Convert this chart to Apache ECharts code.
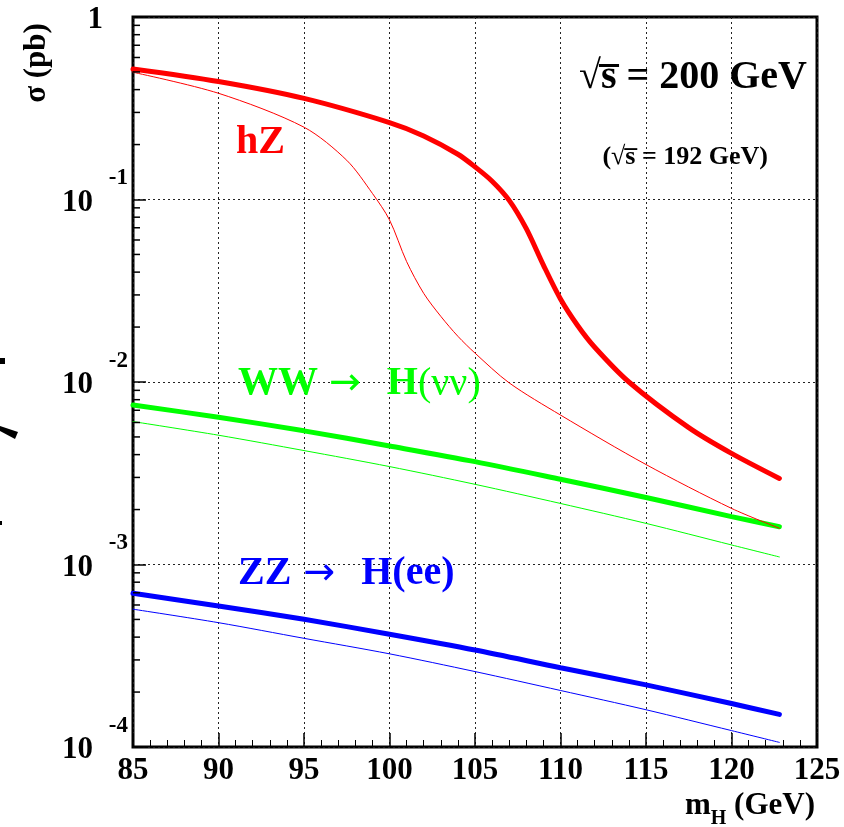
<!DOCTYPE html>
<html>
<head>
<meta charset="utf-8">
<script src="https://cdn.jsdelivr.net/npm/echarts@6/dist/echarts.min.js"></script>
<style>
  html, body { margin: 0; padding: 0; background: #fff; }
  #main { width: 844px; height: 827px; }
</style>
</head>
<body>
<div id="main"></div>
<script>
  // masses (GeV) where the curves were read
  var massHzThick = [85, 90, 95, 100, 102, 104, 105, 106, 107, 108, 109, 110, 111, 112, 114, 117.5, 120, 122.8];
  var massHzThin = [85, 90, 95, 97.5, 99, 100, 101, 102, 103, 104, 105, 107, 110, 115, 120, 122.8];
  var massLin = [85, 90, 95, 100, 105, 110, 115, 120, 122.8];

  // cross sections (pb), thick = sqrt(s)=200 GeV, thin = sqrt(s)=192 GeV
  var hzThick = [0.519, 0.443, 0.358, 0.264, 0.223, 0.177, 0.151, 0.126, 0.0989, 0.0692, 0.0437, 0.0285, 0.0204, 0.0155, 0.0100, 0.00562, 0.00406, 0.00296];
  var hzThin  = [0.498, 0.382, 0.249, 0.164, 0.108, 0.0773, 0.0457, 0.0306, 0.0229, 0.0178, 0.0144, 0.00989, 0.00659, 0.00353, 0.00203, 0.00158];
  var wwThick = [0.00748, 0.00641, 0.00540, 0.00446, 0.00366, 0.00293, 0.00233, 0.00183, 0.00161];
  var wwThin  = [0.00607, 0.00511, 0.00421, 0.00344, 0.00275, 0.00216, 0.00168, 0.00128, 0.00110];
  var zzThick = [0.000695, 0.000593, 0.000501, 0.000415, 0.000340, 0.000272, 0.000219, 0.000173, 0.000151];
  var zzThin  = [0.000569, 0.000480, 0.000394, 0.000324, 0.000259, 0.000204, 0.000160, 0.000123, 0.000106];

  var FONT = '"Liberation Serif", "Times New Roman", serif';
  var ARROW_FONT = '"DejaVu Sans", sans-serif';

  function pairs(xs, ys) {
    return xs.map(function (x, i) { return [x, ys[i]]; });
  }
  function curve(name, color, width, xs, ys) {
    return {
      name: name,
      type: 'line',
      data: pairs(xs, ys),
      showSymbol: false,
      symbol: 'none',
      smooth: 0.3,
      silent: true,
      lineStyle: { color: color, width: width, cap: 'round' },
      z: width > 2 ? 2 : 3
    };
  }

  var chart = echarts.init(document.getElementById('main'));
  chart.setOption({
    animation: false,
    backgroundColor: '#fff',
    grid: {
      left: 133, right: 27, top: 17, bottom: 80,
      outerBoundsMode: 'none',
      containLabel: false,
      show: true, borderColor: '#000', borderWidth: 3
    },
    xAxis: {
      type: 'value',
      min: 85, max: 125, interval: 5,
      axisLine: { show: false },
      axisTick: { inside: true, length: 14, lineStyle: { color: '#000', width: 1.5 } },
      minorTick: { show: true, splitNumber: 5, length: 7, lineStyle: { color: '#000', width: 1 } },
      splitLine: { show: true, lineStyle: { color: '#222', width: 1, type: [2, 3] } },
      axisLabel: {
        margin: 8, color: '#000',
        fontFamily: FONT, fontWeight: 'bold', fontSize: 31
      }
    },
    yAxis: {
      type: 'log',
      logBase: 10,
      min: 0.0001, max: 1,
      axisLine: { show: false },
      axisTick: { inside: true, length: 13, lineStyle: { color: '#000', width: 1.5 } },
      splitLine: { show: true, lineStyle: { color: '#222', width: 1, type: [2, 3] } },
      axisLabel: {
        margin: 5, color: '#000',
        formatter: function (v) {
          var e = Math.round(Math.log10(v));
          if (e === 0) return '{e| }\n{one|1}';
          return '{e|' + e + '}\n{b|10}';
        },
        rich: {
          e: { fontFamily: FONT, fontWeight: 'bold', fontSize: 23, lineHeight: 6, align: 'right', color: '#000' },
          b: { fontFamily: FONT, fontWeight: 'bold', fontSize: 31, lineHeight: 42, align: 'left', padding: [0, 35, 0, 0], color: '#000' },
          one: { fontFamily: FONT, fontWeight: 'bold', fontSize: 31, lineHeight: 42, align: 'left', padding: [0, 25, 0, 0], color: '#000' }
        }
      }
    },
    series: [
      curve('hZ 200', '#ff0000', 5, massHzThick, hzThick),
      curve('WW 200', '#00ff00', 5, massLin, wwThick),
      curve('ZZ 200', '#0000ff', 5, massLin, zzThick),
      curve('hZ 192', '#ff0000', 1, massHzThin, hzThin),
      curve('WW 192', '#00ff00', 1, massLin, wwThin),
      curve('ZZ 192', '#0000ff', 1, massLin, zzThin)
    ]
  });

  // minor ticks of the log axis at 2..9 x 10^n, placed through the axis scale
  var x0 = chart.convertToPixel({ xAxisIndex: 0 }, 85);
  var extras = [];
  for (var e = -4; e < 0; e++) {
    for (var k = 2; k <= 9; k++) {
      var py = chart.convertToPixel({ yAxisIndex: 0 }, k * Math.pow(10, e));
      extras.push({
        type: 'line', silent: true, z: 5,
        shape: { x1: x0, y1: py, x2: x0 + 7, y2: py },
        style: { stroke: '#000', lineWidth: 1.5 }
      });
    }
  }

  var texts = [
    {
      type: 'text', x: 37, y: 63, rotation: Math.PI / 2,
      style: { text: 'σ (pb)', font: 'bold 31px ' + FONT, fill: '#000', align: 'center', verticalAlign: 'middle' }
    },
    {
      type: 'text', x: 815, y: 806,
      style: {
        text: '{m|m}{s|H}{m| (GeV)}', align: 'right', verticalAlign: 'middle',
        rich: {
          m: { font: 'bold 31px ' + FONT, fill: '#000', lineHeight: 46, verticalAlign: 'middle' },
          s: { font: 'bold 20px ' + FONT, fill: '#000', verticalAlign: 'bottom' }
        }
      }
    },
    {
      type: 'text', x: 807, y: 78,
      style: { text: '√s\u0305 = 200 GeV', font: 'bold 40px ' + FONT, fill: '#000', align: 'right', verticalAlign: 'middle' }
    },
    {
      type: 'text', x: 768, y: 157,
      style: { text: '(√s\u0305 = 192 GeV)', font: 'bold 26px ' + FONT, fill: '#000', align: 'right', verticalAlign: 'middle' }
    },
    {
      type: 'text', x: 236, y: 143,
      style: { text: 'hZ', font: 'bold 40px ' + FONT, fill: '#ff0000', align: 'left', verticalAlign: 'middle' }
    },
    {
      type: 'text', x: 238, y: 384,
      style: {
        text: '{b|WW}{a|→}{b|H}{n|(νν)}', align: 'left', verticalAlign: 'middle',
        rich: {
          b: { font: 'bold 40px ' + FONT, fill: '#00ff00' },
          a: { font: '38px ' + ARROW_FONT, fill: '#00ff00', padding: [0, 26, 0, 11] },
          n: { font: '40px ' + FONT, fill: '#00ff00' }
        }
      }
    },
    {
      type: 'text', x: 238, y: 574,
      style: {
        text: '{b|ZZ}{a|→}{b|H(ee)}', align: 'left', verticalAlign: 'middle',
        rich: {
          b: { font: 'bold 40px ' + FONT, fill: '#0000ff' },
          a: { font: '38px ' + ARROW_FONT, fill: '#0000ff', padding: [0, 26, 0, 12] }
        }
      }
    },
    // clipped fragments at the far left edge of the original picture
    { type: 'polygon', shape: { points: [[0, 426], [18, 432], [15, 439], [0, 431]] }, style: { fill: '#000' } },
    { type: 'rect', shape: { x: 0, y: 358, width: 5, height: 6 }, style: { fill: '#000' } },
    { type: 'rect', shape: { x: 0, y: 521, width: 2, height: 4 }, style: { fill: '#000' } }
  ];

  chart.setOption({ graphic: extras.concat(texts) });
</script>
</body>
</html>
